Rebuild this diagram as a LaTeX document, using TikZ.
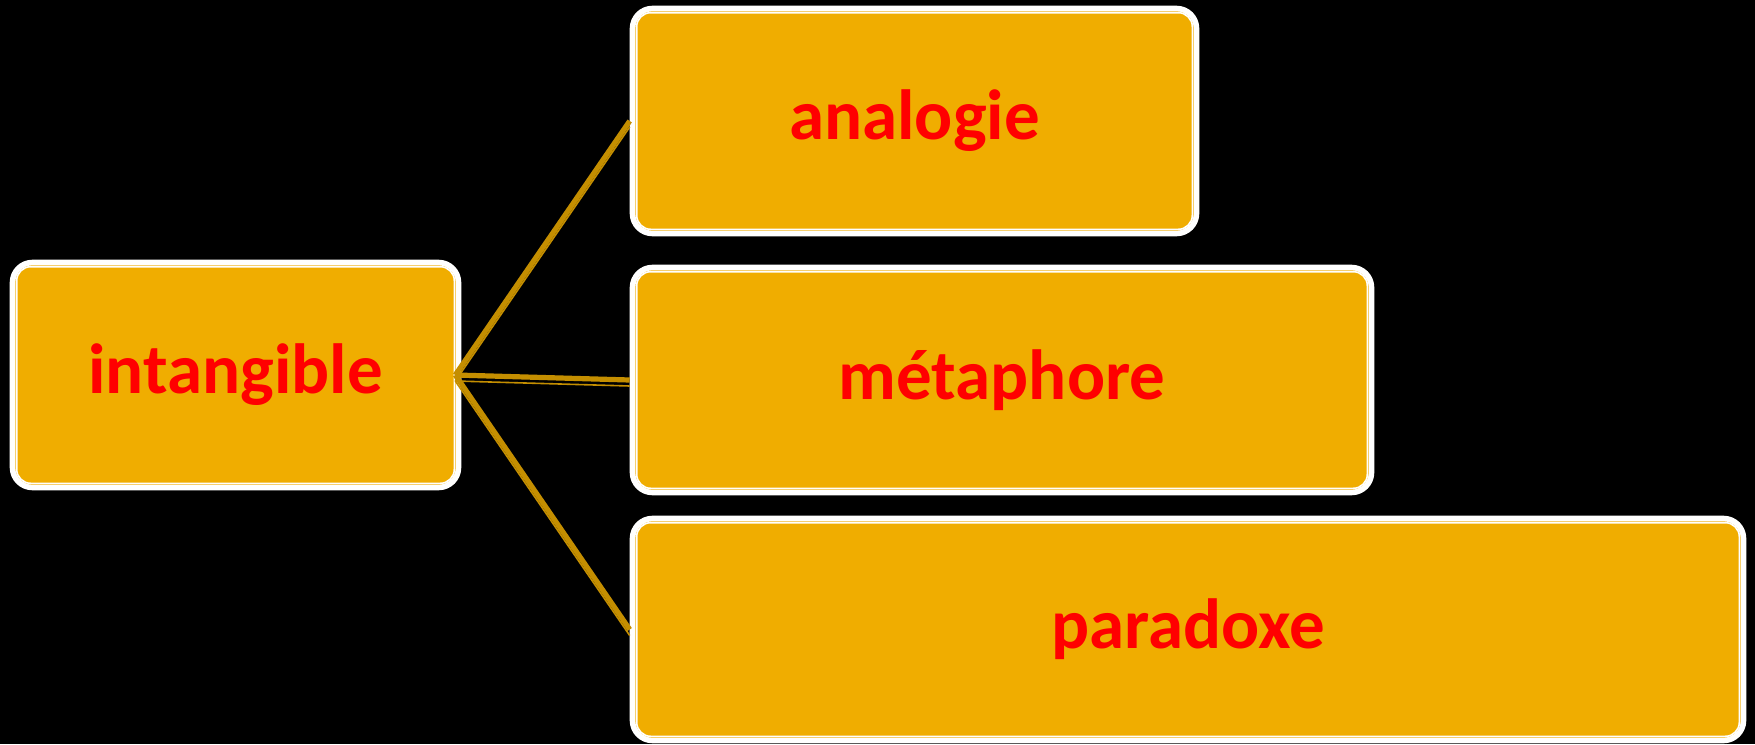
\documentclass[tikz,border=0pt]{standalone}
\usepackage{fontspec}
\setmainfont{Carlito}
\definecolor{boxgold}{RGB}{240,173,0}
\definecolor{linegold}{RGB}{196,142,0}
\definecolor{txtred}{RGB}{255,0,0}
\begin{document}
\begin{tikzpicture}[x=0.5pt,y=-0.5pt,
  box/.style={draw=white, line width=2.8pt, fill=boxgold, rounded corners=10pt,
    font=\bfseries\fontsize{35.5}{40}\selectfont, text=txtred, inner sep=0pt},
  innerline/.style={draw=white, line width=0.8pt, rounded corners=7pt},
  conn/.style={draw=linegold, line width=2.6pt},
  connthin/.style={draw=linegold, line width=0.8pt}]
\fill[black] (0,0) rectangle (1755,744);
\useasboundingbox (0,0) rectangle (1755,744);
\node[box, minimum width=223pt, minimum height=112.5pt] (int) at (235.5,375) {intangible};
\node[box, minimum width=282pt, minimum height=112.5pt] (ana) at (914.5,121) {analogie};
\node[box, minimum width=369.5pt, minimum height=112.5pt] (met) at (1002,380) {métaphore};
\node[box, minimum width=555.5pt, minimum height=111pt] (par) at (1188,629.5) {paradoxe};
\foreach \n in {int,ana,met,par}{
  \draw[innerline] ([shift={(7,7)}]\n.north west) rectangle ([shift={(-7,-7)}]\n.south east);
}
\foreach \n in {ana,met,par}{
  \draw[conn] ([xshift=-3pt]int.east) -- (\n.west);
  \draw[connthin, transform canvas={yshift=-3pt}] ([xshift=-3pt]int.east) -- (\n.west);
}
\end{tikzpicture}
\end{document}
